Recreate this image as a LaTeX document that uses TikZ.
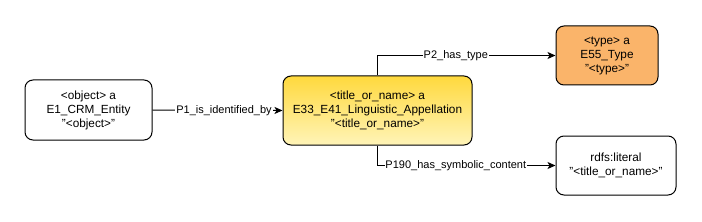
\documentclass[tikz,border=0pt]{standalone}
\usepackage{fontspec}
\setmainfont{Liberation Sans}
\usetikzlibrary{arrows.meta}
\definecolor{orangefill}{HTML}{FAB46A}
\definecolor{yeltop}{HTML}{FFD93D}
\definecolor{yelbot}{HTML}{FFF4B8}
\tikzset{
  ent/.style={draw=black, line width=1pt, rounded corners=8pt, align=center,
    inner sep=0pt, font=\fontsize{11.8}{14}\selectfont},
  lbl/.style={fill=white, inner sep=1pt, font=\fontsize{11}{13}\selectfont},
  conn/.style={line width=1pt, -{Stealth[length=8pt,width=7pt,inset=2pt]}}
}
\begin{document}
\begin{tikzpicture}[x=1pt,y=-1pt]
\useasboundingbox (0,0) rectangle (702,222);
\node[ent, fill=white, minimum width=127pt, minimum height=60pt] (obj) at (88.5,110)
  {<object> a\\E1\_CRM\_Entity\\"<object>"};
\node[ent, top color=yeltop, bottom color=yelbot, minimum width=189pt, minimum height=69pt] (app) at (377.5,110.5)
  {<title\_or\_name> a\\E33\_E41\_Linguistic\_Appellation\\"<title\_or\_name>"};
\node[ent, fill=orangefill, minimum width=102pt, minimum height=59pt] (type) at (607,55.5)
  {<type> a\\E55\_Type\\"<type>"};
\node[ent, fill=white, minimum width=120pt, minimum height=59pt] (lit) at (616,165.5)
  {rdfs:literal\\"<title\_or\_name>"};
\draw[conn] (obj.east) -- node[lbl, pos=0.55] {P1\_is\_identified\_by} (app.west);
\draw[conn] (app.north) -- (app.north |- type.west) -- node[lbl, pos=0.44] {P2\_has\_type} (type.west);
\draw[conn] (app.south) -- (app.south |- lit.west) -- node[lbl, pos=0.44] {P190\_has\_symbolic\_content} (lit.west);
\end{tikzpicture}
\end{document}
